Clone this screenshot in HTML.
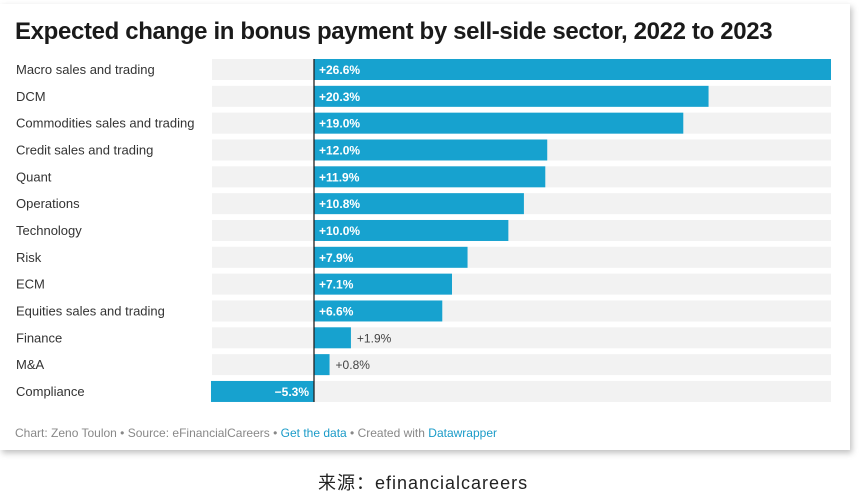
<!DOCTYPE html>
<html><head><meta charset="utf-8"><style>
body{margin:0;width:859px;height:498px;background:#fff;overflow:hidden;font-family:"Liberation Sans",sans-serif;}
#card{position:absolute;left:0;top:4px;width:850px;height:446px;background:#fff;box-shadow:2px 3px 6px rgba(0,0,0,0.25);}
#title{position:absolute;left:15px;top:18px;font-size:24px;font-weight:bold;color:#1a1a1a;letter-spacing:-0.35px;}
#foot{position:absolute;left:15px;top:426px;font-size:12px;color:#888;}
#foot a{color:#1a9bc8;text-decoration:none;}
#cap{position:absolute;left:318px;top:469px;font-size:18px;letter-spacing:1px;color:#222;font-family:"Liberation Sans","Noto Sans CJK SC",sans-serif;}
</style></head><body>
<div id="card"></div>
<div id="title">Expected change in bonus payment by sell-side sector, 2022 to 2023</div>
<svg id="chart" width="859" height="498" style="position:absolute;left:0;top:0"></svg>
<div id="foot">Chart: Zeno Toulon • Source: eFinancialCareers • <a>Get the data</a> • Created with <a>Datawrapper</a></div>
<div id="cap">来源：efinancialcareers</div>
<script>
const categories=["Macro sales and trading","DCM","Commodities sales and trading","Credit sales and trading","Quant","Operations","Technology","Risk","ECM","Equities sales and trading","Finance","M&A","Compliance"];
const values=[26.6,20.3,19.0,12.0,11.9,10.8,10.0,7.9,7.1,6.6,1.9,0.8,-5.3];
const labels=["+26.6%","+20.3%","+19.0%","+12.0%","+11.9%","+10.8%","+10.0%","+7.9%","+7.1%","+6.6%","+1.9%","+0.8%","−5.3%"];
const NS="http://www.w3.org/2000/svg";
const svg=document.getElementById('chart');
const x0=212,x1=831,zero=314;
const k=(x1-zero)/26.6;
const xs=v=>zero+v*k;
const ys=i=>59+i*26.83;
function mk(t,a){const e=document.createElementNS(NS,t);for(const n in a)e.setAttribute(n,a[n]);svg.appendChild(e);return e;}
categories.forEach((c,i)=>{
  const y=ys(i);
  const lab=mk('text',{x:16,y:y+15,'font-size':13,fill:'#333'});
  
  
  lab.textContent=c;
  const bg=mk('rect',{x:x0,y:y,width:x1-x0,height:21,fill:'#f2f2f2'});
  
  
  const v=values[i];
  const a=xs(Math.min(0,v)),b=xs(Math.max(0,v));
  const bar=mk('rect',{x:a,y:y,width:b-a,height:21,fill:'#17a2cf'});
  
  
  const w=b-a;
  let t;
  if(v<0){t=mk('text',{x:zero-5,y:y+15,'font-size':12,'font-weight':'bold',fill:'#fff','text-anchor':'end'});}
  else if(w>60){t=mk('text',{x:zero+5,y:y+15,'font-size':12,'font-weight':'bold',fill:'#fff'});}
  else{t=mk('text',{x:b+6,y:y+15,'font-size':12,fill:'#444'});}
  
  
  t.textContent=labels[i];
});
const zl=mk('line',{x1:zero,x2:zero,y1:ys(0),y2:ys(12)+21,stroke:'#222','stroke-width':1.3});


</script>
</body></html>
